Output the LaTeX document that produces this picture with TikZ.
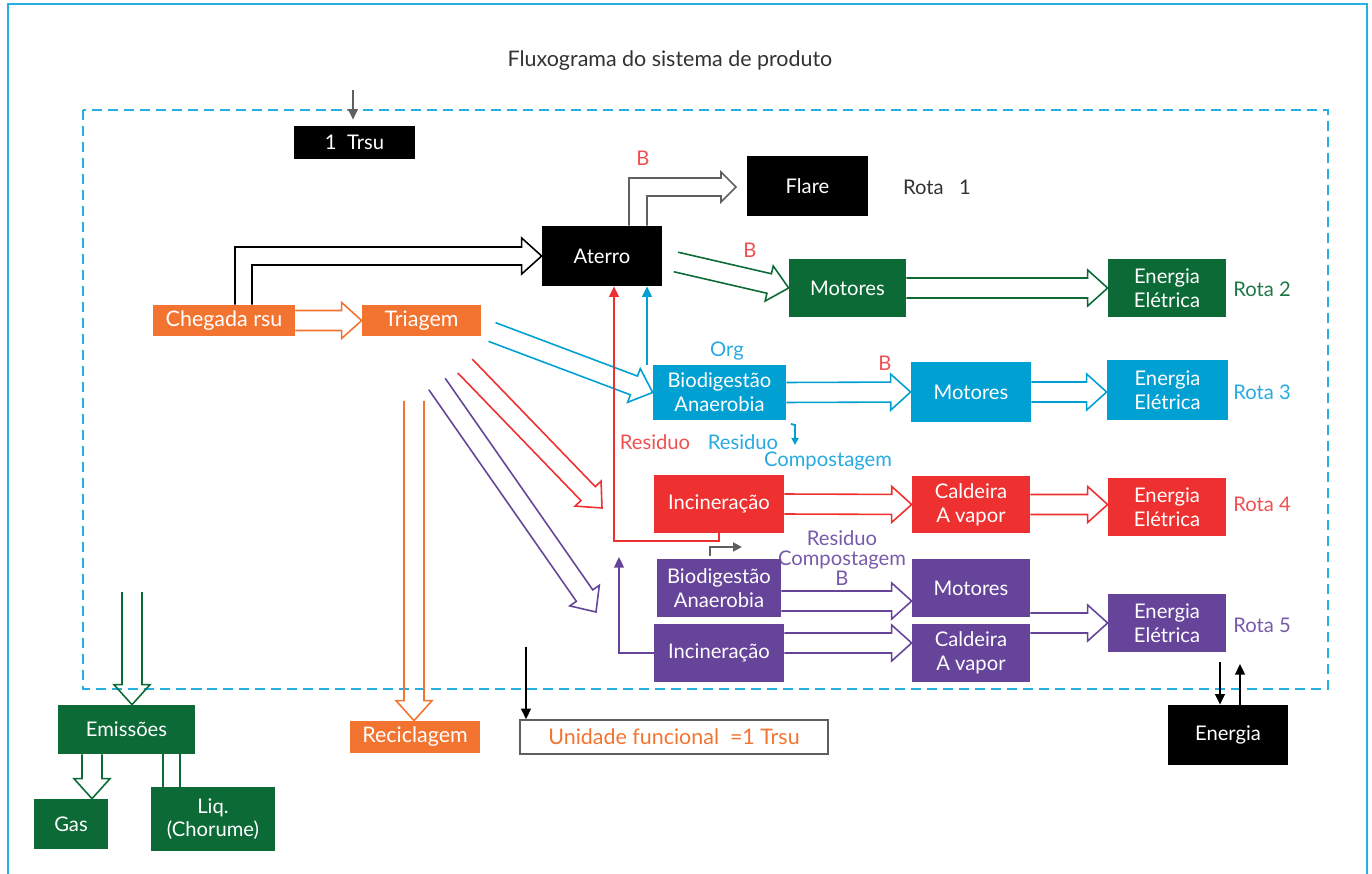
\documentclass[tikz,border=0pt]{standalone}
\usepackage{fontspec}
\setmainfont{Lato}
\usetikzlibrary{calc,arrows.meta}

\definecolor{rsuorange}{RGB}{243,116,48}
\definecolor{rotagreen}{RGB}{11,106,54}
\definecolor{rotablue}{RGB}{0,160,210}
\definecolor{rotared}{RGB}{238,49,48}
\definecolor{rotapurple}{RGB}{101,68,154}
\definecolor{framebl}{RGB}{40,175,225}
\definecolor{arrgray}{RGB}{95,95,95}
\definecolor{txtgray}{RGB}{50,50,50}
\definecolor{lblred}{RGB}{240,80,80}
\definecolor{lblblue}{RGB}{40,170,225}
\definecolor{lblpurple}{RGB}{120,90,170}
\definecolor{lblgreen}{RGB}{30,120,70}

% hollow block arrow from #2 to #3
\newcommand{\fatarrow}[3][]{%
  \draw[fat,#1] ($(#2)!0.2cm!90:(#3)$)
    -- ($(#3)!0.4cm!(#2)!0.2cm!-90:(#2)$)
    -- ($(#3)!0.4cm!(#2)!0.36cm!-90:(#2)$)
    -- (#3)
    -- ($(#3)!0.4cm!(#2)!0.36cm!90:(#2)$)
    -- ($(#3)!0.4cm!(#2)!0.2cm!90:(#2)$)
    -- ($(#2)!0.2cm!-90:(#3)$);}

\tikzset{
  box/.style={rectangle, fill=#1, text=white, inner sep=0pt, align=center,
    minimum width=2.36cm, minimum height=1.16cm,
    font=\fontsize{11.5}{13.5}\selectfont},
  bigtext/.style={font=\fontsize{12.2}{14}\selectfont},
  lbl/.style={text=#1, inner sep=0pt, align=center,
    font=\fontsize{11.5}{12}\selectfont},
  fat/.style={line width=0.9pt, line join=miter},
  flowarr/.style={line width=1.1pt, -{Triangle[length=6pt,width=5.5pt]}},
}

\begin{document}
\begin{tikzpicture}[x=0.02cm, y=-0.02cm]
  \useasboundingbox (0,0) rectangle (1372,874);

  % Frames:
  \draw[framebl, line width=1.1pt] (8,874) -- (8,4) -- (1367,4) -- (1367,874);
  \draw[framebl, line width=1.1pt, dash pattern=on 5.7pt off 3.4pt]
    (83,110) rectangle (1328,689);

  % Title and labels:
  \node[lbl=txtgray, bigtext] (title) at (670,61) {Fluxograma do sistema de produto};
  \node[lbl=txtgray] (rota1) at (937,187) {Rota\ \ \ 1};
  \node[lbl=lblgreen] (rota2) at (1262,289) {Rota 2};
  \node[lbl=lblblue] (rota3) at (1262,392) {Rota 3};
  \node[lbl=lblred] (rota4) at (1262,504) {Rota 4};
  \node[lbl=lblpurple] (rota5) at (1262,625) {Rota 5};
  \node[lbl=lblred] (bflare) at (643,158) {B};
  \node[lbl=lblred] (bmotg) at (750,250) {B};
  \node[lbl=lblred] (bmotb) at (885,363) {B};
  \node[lbl=lblblue] (org) at (727,351) {Org};
  \node[lbl=lblred] (resr) at (655,442) {Residuo};
  \node[lbl=lblblue] (resb) at (743,442) {Residuo};
  \node[lbl=lblblue] (compb) at (828,461) {Compostagem};
  \node[lbl=lblpurple, font=\fontsize{11.5}{11.5}\selectfont] (resp) at (842,558)
    {Residuo\\Compostagem\\B};

  % Boxes:
  \node[box=black, minimum width=2.42cm, minimum height=0.66cm] (trsu) at (354.5,142.5) {1\ \ Trsu};
  \node[box=black, minimum width=2.42cm, minimum height=1.2cm] (flare) at (807.5,186) {Flare};
  \node[box=black, minimum width=2.4cm, minimum height=1.2cm] (aterro) at (602,256) {Aterro};
  \node[box=rotagreen, minimum width=2.34cm] (motg) at (847.5,288) {Motores};
  \node[box=rotagreen] (eeg) at (1167,288) {Energia\\Elétrica};
  \node[box=rsuorange, bigtext, minimum width=2.84cm, minimum height=0.62cm] (chegada) at (224,320.5) {Chegada rsu};
  \node[box=rsuorange, bigtext, minimum width=2.38cm, minimum height=0.62cm] (triagem) at (421.5,320.5) {Triagem};
  \node[box=rotablue, minimum width=2.66cm, minimum height=1.1cm] (biob) at (719.5,392.5) {Biodigestão\\Anaerobia};
  \node[box=rotablue, minimum width=2.4cm, minimum height=1.2cm] (motb) at (971,392) {Motores};
  \node[box=rotablue, minimum width=2.42cm, minimum height=1.2cm] (eeb) at (1167.5,390) {Energia\\Elétrica};
  \node[box=rotared, minimum width=2.6cm] (incr) at (719,504) {Incineração};
  \node[box=rotared] (calr) at (971,504.5) {Caldeira\\A vapor};
  \node[box=rotared] (eer) at (1167,507) {Energia\\Elétrica};
  \node[box=rotapurple, minimum width=2.48cm] (biop) at (719,588) {Biodigestão\\Anaerobia};
  \node[box=rotapurple, minimum width=2.6cm] (incp) at (719,653) {Incineração};
  \node[box=rotapurple] (motp) at (971,588) {Motores};
  \node[box=rotapurple] (calp) at (971,653) {Caldeira\\A vapor};
  \node[box=rotapurple] (eep) at (1167,623) {Energia\\Elétrica};
  \node[box=rsuorange, bigtext, minimum width=2.6cm, minimum height=0.64cm] (recic) at (415,737) {Reciclagem};
  \node[draw=arrgray, line width=0.9pt, text=rsuorange, inner sep=0pt, bigtext,
    minimum width=6.16cm, minimum height=0.68cm]
    (uf) at (674,737) {Unidade funcional\ \ =1 Trsu};
  \node[box=black, minimum width=2.4cm, minimum height=1.2cm] (energia) at (1228,735) {Energia};
  \node[box=rotagreen, minimum width=2.74cm, minimum height=0.98cm] (emiss) at (126.5,729.5) {Emissões};
  \node[box=rotagreen, minimum width=1.48cm, minimum height=1cm] (gas) at (71,824) {Gas};
  \node[box=rotagreen, minimum width=2.48cm, minimum height=1.28cm] (liq) at (213,819) {Liq.\\(Chorume)};

  % Free ends:
  \coordinate (intop) at (353,90);
  \coordinate (atA) at (676,262);
  \coordinate (triB) at (492,332);
  \coordinate (triR) at (465,366);
  \coordinate (endR) at (602,508);
  \coordinate (triP) at (437,384);
  \coordinate (endP) at (596,612);
  \coordinate (triO) at (414,401);
  \coordinate (emA) at (132,592);
  \coordinate (gasx) at (92,0);
  \coordinate (liqa) at (163,0);
  \coordinate (liqb) at (180,0);
  \coordinate (purA) at (0,601);
  \coordinate (purB) at (0,643);
  \coordinate (ftip) at (736,187);
  \coordinate (redl) at (614,541);
  \coordinate (bluex) at (647,0);
  \coordinate (purup) at (619,557);
  \coordinate (grs) at (710,556);
  \coordinate (gre) at (742,547);
  \coordinate (cps) at (791,424);
  \coordinate (cpe) at (795,445);
  \coordinate (ufin) at (526,647);
  \coordinate (edn) at (1220,662);
  \coordinate (eup) at (1240,664);

  % Block arrows:
  \fatarrow[rsuorange]{chegada.east}{triagem.west}
  \draw[fat, black] ($(chegada.north)+(11,0)$) |- ($(aterro.west)+(-20,-9)$)
    -- ++(0,-9) -- (aterro.west) -- ++(-20,18) -- ++(0,-9) -| ($(chegada.north)+(28,0)$);
  \draw[fat, arrgray] ($(aterro.north)+(27,0)$) |- ($(ftip)+(-15,-9)$)
    -- ++(0,-6) -- (ftip) -- ++(-15,15) -- ++(0,-6) -| ($(aterro.north)+(45,0)$);
  \fatarrow[rotagreen]{atA}{motg.west}
  \fatarrow[rotagreen]{motg.east}{eeg.west}
  \fatarrow[rotablue]{triB}{biob.west}
  \fatarrow[rotablue]{biob.east}{motb.west}
  \fatarrow[rotablue]{motb.east}{eeb.west |- motb.east}
  \fatarrow[rotared]{triR}{endR}
  \fatarrow[rotared]{incr.east}{calr.west}
  \fatarrow[rotared]{calr.east}{eer.west |- calr.east}
  \fatarrow[rotapurple]{triP}{endP}
  \fatarrow[rotapurple]{biop.east |- purA}{motp.west |- purA}
  \fatarrow[rotapurple]{incp.east |- purB}{calp.west |- purB}
  \fatarrow[rotapurple]{motp.east |- eep.west}{eep.west}
  \fatarrow[rsuorange]{triO}{triO |- recic.north}
  \fatarrow[rotagreen]{emA}{emA |- emiss.north}
  \fatarrow[rotagreen]{gasx |- emiss.south}{gasx |- gas.north}
  \draw[fat, rotagreen] (liqa |- emiss.south) -- (liqa |- liq.north);
  \draw[fat, rotagreen] (liqb |- emiss.south) -- (liqb |- liq.north);

  % Thin arrows:
  \draw[flowarr, arrgray, shorten >=0.12cm] (intop) -- (intop |- trsu.north);
  \draw[flowarr, rotared] (incr.south) |- (redl) -- (redl |- aterro.south);
  \draw[flowarr, rotablue] (biob.north -| bluex) -- (aterro.south -| bluex);
  \draw[flowarr, rotapurple] (incp.west) -| (purup);
  \draw[flowarr, arrgray, -{Triangle[length=5pt,width=5pt]}] (grs) |- (gre);
  \draw[flowarr, rotablue, -{Triangle[length=4pt,width=4pt]}] (cps) -- ++(4,1) -- (cpe);
  \draw[flowarr, black] (ufin) -- (ufin |- uf.north);
  \draw[flowarr, black] (edn) -- (edn |- energia.north);
  \draw[flowarr, black] (eup |- energia.north) -- (eup);
\end{tikzpicture}
\end{document}
